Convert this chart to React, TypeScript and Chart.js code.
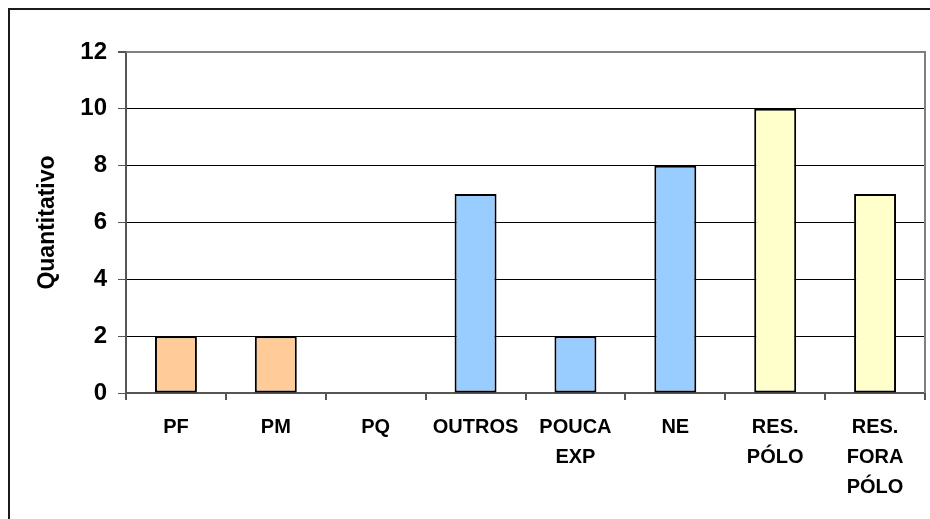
import React, { useEffect, useRef } from "react";
import { Chart, registerables } from "chart.js";

Chart.register(...registerables);

// Categories (multi-line labels) and counts
const categories: (string | string[])[] = [
  "PF",
  "PM",
  "PQ",
  "OUTROS",
  ["POUCA", "EXP"],
  "NE",
  ["RES.", "PÓLO"],
  ["RES.", "FORA", "PÓLO"],
];
const counts: number[] = [2, 2, 0, 7, 2, 8, 10, 7];
const barColors: string[] = [
  "#FFCC99",
  "#FFCC99",
  "#FFCC99",
  "#99CCFF",
  "#99CCFF",
  "#99CCFF",
  "#FFFFCC",
  "#FFFFCC",
];
const yMin = 0;
const yMax = 12;
const yStep = 2;
const yTitle = "Quantitativo";

const FONT = "'Liberation Sans', Arial, Helvetica, sans-serif";

// White background, outer frame and the grey plot-area border (top/right)
const framePlugin = {
  id: "frame",
  beforeDraw(chart: Chart) {
    const { ctx, width, height } = chart;
    ctx.save();
    ctx.fillStyle = "#ffffff";
    ctx.fillRect(0, 0, width, height);
    ctx.fillStyle = "#1a1a1a";
    ctx.fillRect(8, 8, width - 8, 2);
    ctx.fillRect(8, 8, 2, height - 8);
    ctx.restore();
  },
  afterDraw(chart: Chart) {
    const { ctx, chartArea } = chart;
    ctx.save();
    ctx.strokeStyle = "#808080";
    ctx.lineWidth = 2;
    ctx.beginPath();
    ctx.moveTo(chartArea.left, chartArea.top);
    ctx.lineTo(chartArea.right, chartArea.top);
    ctx.lineTo(chartArea.right, chartArea.bottom);
    ctx.stroke();
    ctx.restore();
  },
};

export default function App() {
  const canvasRef = useRef<HTMLCanvasElement | null>(null);

  useEffect(() => {
    if (!canvasRef.current) return;
    const chart = new Chart(canvasRef.current, {
      type: "bar",
      data: {
        labels: categories,
        datasets: [
          {
            data: counts,
            backgroundColor: barColors,
            borderColor: "#000000",
            borderWidth: 2,
            borderSkipped: false,
            barPercentage: 0.42,
            categoryPercentage: 1,
          },
        ],
      },
      options: {
        responsive: false,
        animation: false,
        devicePixelRatio: 1,
        layout: { padding: { top: 52, right: 5, left: 0, bottom: 0 } },
        plugins: {
          legend: { display: false },
          tooltip: { enabled: false },
          title: { display: false },
        },
        scales: {
          x: {
            grid: {
              display: true,
              drawOnChartArea: false,
              drawTicks: true,
              tickLength: 7,
              offset: true,
              color: "#555555",
              lineWidth: 2,
            },
            border: { display: true, color: "#555555", width: 2 },
            ticks: {
              color: "#000000",
              font: { family: FONT, size: 20, weight: "bold", lineHeight: 1.5 },
              padding: 12,
              maxRotation: 0,
              autoSkip: false,
            },
            afterFit(scale: any) {
              scale.height = 126;
            },
          },
          y: {
            min: yMin,
            max: yMax,
            grid: {
              color: (c: any) => (c.tick && c.tick.value === yMax ? "#808080" : "#000000"),
              lineWidth: (c: any) => (c.tick && c.tick.value === yMax ? 2 : 1),
              tickColor: "#555555",
              tickLength: 8,
              drawTicks: true,
            },
            border: { display: true, color: "#555555", width: 2 },
            ticks: {
              stepSize: yStep,
              color: "#000000",
              font: { family: FONT, size: 24, weight: "bold" },
              padding: 11,
            },
            title: {
              display: true,
              text: yTitle,
              color: "#000000",
              font: { family: FONT, size: 23, weight: "bold" },
              padding: { top: 34, bottom: 0 },
            },
            afterFit(scale: any) {
              scale.width = 126;
            },
          },
        },
      },
      plugins: [framePlugin],
    });
    return () => chart.destroy();
  }, []);

  return (
    <div style={{ position: "absolute", left: 0, top: 0, width: 930, height: 519 }}>
      <canvas ref={canvasRef} width={930} height={519} style={{ display: "block" }} />
    </div>
  );
}
